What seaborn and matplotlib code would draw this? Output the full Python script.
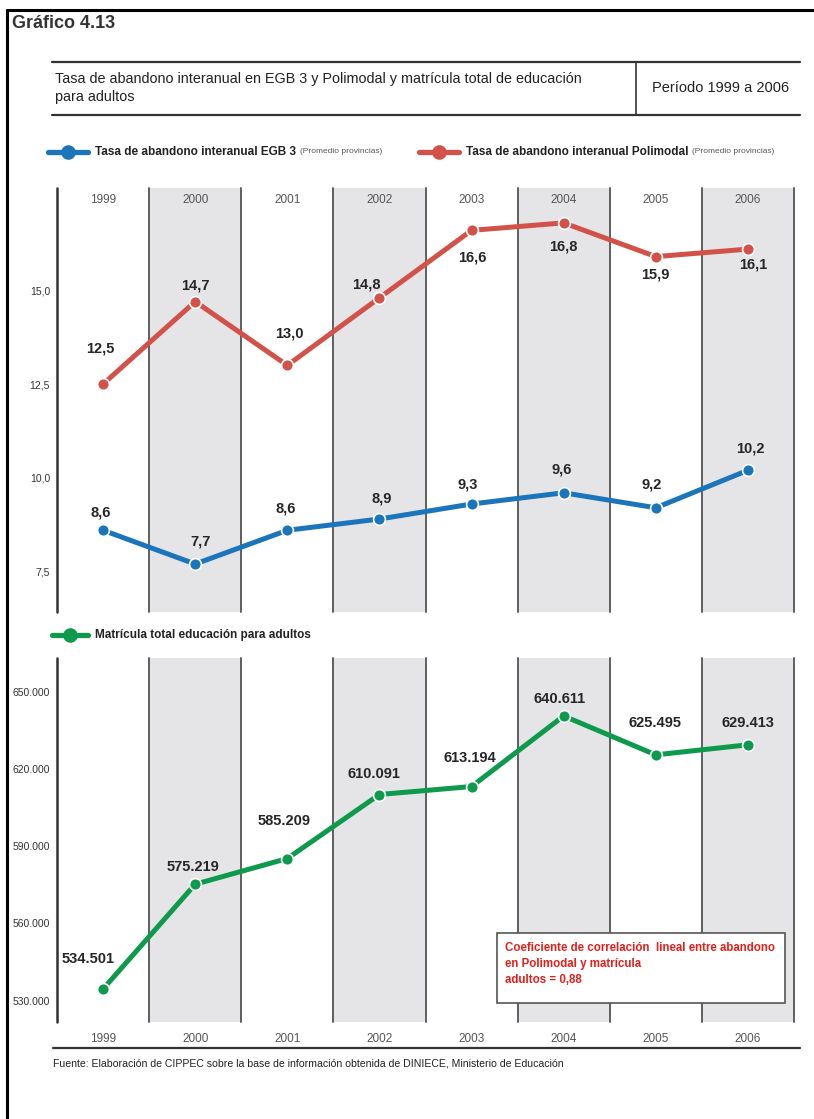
import seaborn as sns
import matplotlib.pyplot as plt
import numpy as np
import pandas as pd
from matplotlib.lines import Line2D
from matplotlib.patches import Rectangle

# data
years = [1999, 2000, 2001, 2002, 2003, 2004, 2005, 2006]
egb3 = [8.6, 7.7, 8.6, 8.9, 9.3, 9.6, 9.2, 10.2]
polimodal = [12.5, 14.7, 13.0, 14.8, 16.6, 16.8, 15.9, 16.1]
adultos = [534501, 575219, 585209, 610091, 613194, 640611, 625495, 629413]
top_ticks = [7.5, 10.0, 12.5, 15.0]
bottom_ticks = [530000, 560000, 590000, 620000, 650000]

# label offsets in pixels (style only)
off_pol = [(-3, 36), (0, 16), (2, 32), (-13, 13), (1, -27), (0, -24), (0, -18), (5, -15)]
off_egb = [(-2, 18), (5, 23), (-2, 22), (2, 21), (-4, 20), (-2, 23), (-4, 23), (2, 22)]
off_adu = [(-15, 30), (-2, 17), (-3, 38), (-5, 21), (-2, 29), (-4, 17), (-1, 32), (0, 22)]

BLUE = '#1b75bb'
RED = '#d2524a'
GREEN = '#0e9a4c'
BAND = '#e5e5e7'
VLINE = '#5f5f5f'

sns.set_style('white')
plt.rcParams['font.family'] = ['Liberation Sans', 'DejaVu Sans']

W, H = 814, 1119
fig = plt.figure(figsize=(W / 100, H / 100), dpi=100)


def fx(px):
    return px / W


def fy(py):
    return 1 - py / H


def comma(v):
    return f'{v:.1f}'.replace('.', ',')


def dots(v):
    return f'{v:,.0f}'.replace(',', '.')


def frame(ax):
    for y in years[1::2]:
        ax.axvspan(y - 0.5, y + 0.5, color=BAND, lw=0, zorder=0)
    for b in np.arange(years[0] - 0.5, years[-1] + 1, 1):
        first = b == years[0] - 0.5
        ax.axvline(b, color='#333' if first else VLINE,
                   lw=1.8 if first else 1.4, zorder=1, clip_on=False)
    ax.set_xlim(years[0] - 0.5, years[-1] + 0.5)
    for s in ax.spines.values():
        s.set_visible(False)
    ax.tick_params(length=0)


def annotate(ax, xs, ys, labels, offs):
    for x, y, t, o in zip(xs, ys, labels, offs):
        ax.annotate(t, (x, y), xytext=o, textcoords='offset pixels',
                    ha='center', va='center', fontsize=10.5, fontweight='bold',
                    color='#262626', zorder=5)


df = pd.DataFrame({'year': years, 'egb3': egb3, 'pol': polimodal, 'adu': adultos})
line_kw = dict(marker='o', markersize=8.5, markeredgecolor='white', markeredgewidth=1.2,
               linewidth=3.6, zorder=3)

# top chart
ax1 = fig.add_axes([fx(57), fy(612), (794 - 57) / W, (612 - 188) / H])
frame(ax1)
sns.lineplot(data=df, x='year', y='pol', color=RED, ax=ax1, **line_kw)
sns.lineplot(data=df, x='year', y='egb3', color=BLUE, ax=ax1, **line_kw)
ax1.set_ylim(6.42, 17.73)
ax1.set_yticks(top_ticks)
ax1.set_yticklabels([comma(v) for v in top_ticks], fontsize=7.5, color='#333')
ax1.tick_params(axis='y', pad=5)
ax1.set_xticks([])
ax1.set_xlabel('')
ax1.set_ylabel('')
for y in years:
    ax1.text(y, 0.972, str(y), transform=ax1.get_xaxis_transform(),
             ha='center', va='center', fontsize=8.5, color='#555')
annotate(ax1, years, polimodal, [comma(v) for v in polimodal], off_pol)
annotate(ax1, years, egb3, [comma(v) for v in egb3], off_egb)

# bottom chart
ax2 = fig.add_axes([fx(57), fy(1022), (794 - 57) / W, (1022 - 658) / H])
frame(ax2)
sns.lineplot(data=df, x='year', y='adu', color=GREEN, ax=ax2, **line_kw)
ax2.set_ylim(521680, 663140)
ax2.set_yticks(bottom_ticks)
ax2.set_yticklabels([dots(v) for v in bottom_ticks], fontsize=7.5, color='#333')
ax2.tick_params(axis='y', pad=5)
ax2.set_xticks(years)
ax2.set_xticklabels([str(y) for y in years], fontsize=8.5, color='#555')
ax2.tick_params(axis='x', pad=8)
ax2.set_xlabel('')
ax2.set_ylabel('')
annotate(ax2, years, adultos, [dots(v) for v in adultos], off_adu)

# correlation box
fig.add_artist(Rectangle((fx(497), fy(1003)), (785 - 497) / W, (1003 - 933) / H,
                         transform=fig.transFigure, facecolor='white',
                         edgecolor='#555', lw=1.2, zorder=10))
fig.text(fx(505), fy(942), 'Coeficiente de correlación  lineal entre abandono\n'
         'en Polimodal y matrícula\nadultos = 0,88', ha='left', va='top',
         fontsize=8.3, fontweight='bold', color='#e0201b', linespacing=1.45, zorder=11)

# outer frame and header
fig.add_artist(Line2D([fx(7), fx(7)], [fy(10), 0], color='black', lw=2.2))
fig.add_artist(Line2D([fx(7), 1], [fy(10), fy(10)], color='black', lw=2.2))
fig.text(fx(12), fy(23), 'Gráfico 4.13', ha='left', va='center',
         fontsize=13, fontweight='bold', color='#333')
for yy in (62, 115):
    fig.add_artist(Line2D([fx(52), fx(800)], [fy(yy), fy(yy)], color='#333', lw=1.6))
fig.add_artist(Line2D([fx(636), fx(636)], [fy(62), fy(115)], color='#333', lw=1.2))
fig.text(fx(55), fy(88), 'Tasa de abandono interanual en EGB 3 y Polimodal y matrícula total de educación\n'
         'para adultos', ha='left', va='center', fontsize=10.4, color='#222', linespacing=1.35)
fig.text(fx(652), fy(88), 'Período 1999 a 2006', ha='left', va='center',
         fontsize=10.5, color='#222')

renderer = fig.canvas.get_renderer()


# legends
def legend_item(x0, x1, y0, color, label, note=None):
    fig.add_artist(Line2D([fx(x0), fx((x0 + x1) / 2), fx(x1)], [fy(y0)] * 3,
                          color=color, lw=3.8, marker='o', markersize=9.5,
                          markevery=[1]))
    t = fig.text(fx(x1 + 7), fy(y0), label, ha='left', va='center',
                 fontsize=8.5, fontweight='bold', color='#222')
    if note:
        bb = t.get_window_extent(renderer)
        fig.text(bb.x1 / W + fx(4), fy(y0), note, ha='left', va='center',
                 fontsize=6, color='#555')


legend_item(48, 88, 152, BLUE, 'Tasa de abandono interanual EGB 3', '(Promedio provincias)')
legend_item(419, 459, 152, RED, 'Tasa de abandono interanual Polimodal', '(Promedio provincias)')
legend_item(52, 88, 635, GREEN, 'Matrícula total educación para adultos')

# footer
fig.add_artist(Line2D([fx(53), fx(800)], [fy(1048), fy(1048)], color='#333', lw=1.6))
fig.text(fx(53), fy(1063), 'Fuente: Elaboración de CIPPEC sobre la base de información obtenida de DINIECE, Ministerio de Educación',
         ha='left', va='center', fontsize=7.6, color='#222')

fig.savefig('out.png', dpi=100)
